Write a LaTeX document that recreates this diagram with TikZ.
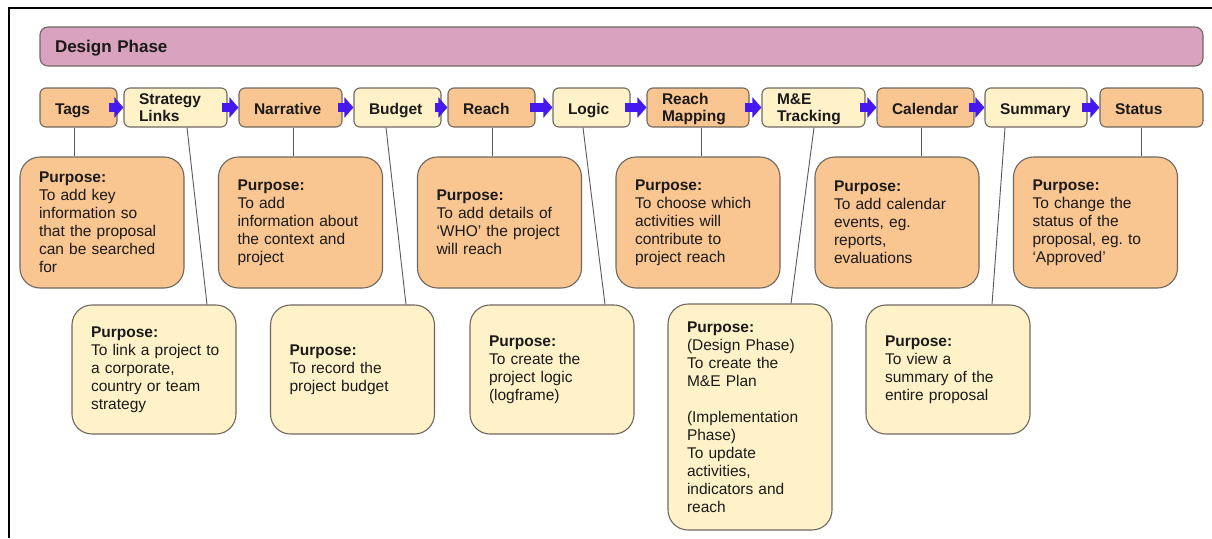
\documentclass[tikz,border=0pt]{standalone}
\usepackage{fontspec}
\setmainfont{Liberation Sans}
\usetikzlibrary{arrows.meta}
\definecolor{orng}{HTML}{F9C590}
\definecolor{ylw}{HTML}{FFF2C8}
\definecolor{purp}{HTML}{D9A3C0}
\definecolor{edge}{HTML}{6E6860}
\definecolor{arrowblue}{HTML}{4418EE}
\definecolor{txt}{HTML}{1A1A1A}
\frenchspacing
\tikzset{
  lbl/.style={draw=edge, line width=1.1pt, rounded corners=6pt, minimum height=39pt,
    inner xsep=15pt, inner ysep=2pt, align=left, text=txt,
    text height=14pt, text depth=0.4pt,
    font=\fontsize{15.5}{17.4}\selectfont\bfseries},
  twoline/.style={text height=10pt, text depth=16.4pt},
  obox/.style={lbl, fill=orng},
  ybox/.style={lbl, fill=ylw},
  purpose/.style={draw=edge, line width=1.1pt, rounded corners=20pt, minimum width=164pt,
    inner xsep=19pt, text width=126pt, align=left, text=txt,
    font=\fontsize{15.5}{18}\selectfont},
  opurp/.style={purpose, fill=orng, minimum height=131pt},
  ypurp/.style={purpose, fill=ylw, minimum height=129pt},
  flow/.style={draw=arrowblue, line width=9pt, -{Triangle[length=9pt,width=20pt]}},
  conn/.style={draw=black!65, line width=0.9pt},
  frameline/.style={draw=black, line width=2pt}
}
\begin{document}
\begin{tikzpicture}[x=1pt,y=-1pt]
\useasboundingbox (0,0) rectangle (1212,538);
% frame
\coordinate (fa) at (1212,8);
\coordinate (fb) at (9,8);
\coordinate (fc) at (9,538);
\draw[frameline] (fa) -- (fb) -- (fc);
% phase bar
\node[draw=edge, line width=1.1pt, fill=purp, rounded corners=8pt, minimum width=1163pt,
  minimum height=39pt, inner xsep=15pt, text width=1133pt, align=left, text=txt,
  text height=12pt, text depth=1pt,
  font=\fontsize{17}{20}\selectfont\bfseries] (phase) at (621.5,46.5) {Design Phase};
% top row
\node[obox, minimum width=77pt, text width=47pt] (tags) at (78.5,107.5) {Tags};
\node[ybox, twoline, minimum width=103pt, text width=73pt] (strat) at (175.5,107.5) {Strategy\\Links};
\node[obox, minimum width=103pt, text width=73pt] (narr) at (290.5,107.5) {Narrative};
\node[ybox, minimum width=87pt, text width=57pt] (budget) at (397.5,107.5) {Budget};
\node[obox, minimum width=87pt, text width=57pt] (reach) at (491.5,107.5) {Reach};
\node[ybox, minimum width=77pt, text width=47pt] (logic) at (591.5,107.5) {Logic};
\node[obox, twoline, minimum width=102pt, text width=72pt] (rmap) at (698,107.5) {Reach\\Mapping};
\node[ybox, twoline, minimum width=103pt, text width=73pt] (metr) at (813.5,107.5) {M\&E\\Tracking};
\node[obox, minimum width=97pt, text width=67pt] (cal) at (925.5,107.5) {Calendar};
\node[ybox, minimum width=102pt, text width=72pt] (summ) at (1036,107.5) {Summary};
\node[obox, minimum width=103pt, text width=73pt] (status) at (1151.5,107.5) {Status};
% arrows
\draw[flow] ([xshift=-9pt]tags.east) -- (strat.west);
\draw[flow] ([xshift=-6pt]strat.east) -- (narr.west);
\draw[flow] ([xshift=-5pt]narr.east) -- (budget.west);
\draw[flow] ([xshift=-7pt]budget.east) -- (reach.west);
\draw[flow] ([xshift=-6pt]reach.east) -- (logic.west);
\draw[flow] ([xshift=-6pt]logic.east) -- (rmap.west);
\draw[flow] ([xshift=-5pt]rmap.east) -- (metr.west);
\draw[flow] ([xshift=-6pt]metr.east) -- (cal.west);
\draw[flow] ([xshift=-6pt]cal.east) -- (summ.west);
\draw[flow] ([xshift=-6pt]summ.east) -- (status.west);
% purpose boxes, row 2
\node[opurp] (tagsP) at (102,222.5) {\textbf{Purpose:}\\To add key\\information so\\that the proposal\\can be searched\\for};
\node[opurp] (narrP) at (300.5,222.5) {\textbf{Purpose:}\\To add\\information about\\the context and\\project};
\node[opurp] (reachP) at (499.5,222.5) {\textbf{Purpose:}\\To add details of\\`WHO' the project\\will reach};
\node[opurp] (rmapP) at (698,222.5) {\textbf{Purpose:}\\To choose which\\activities will\\contribute to\\project reach};
\node[opurp] (calP) at (897,222.5) {\textbf{Purpose:}\\To add calendar\\events, eg.\\reports,\\evaluations};
\node[opurp] (statusP) at (1095.5,222.5) {\textbf{Purpose:}\\To change the\\status of the\\proposal, eg. to\\`Approved'};
% purpose boxes, row 3
\node[ypurp] (stratP) at (154,369.5) {\textbf{Purpose:}\\\mbox{To link a project to}\\a corporate,\\country or team\\strategy};
\node[ypurp] (budgetP) at (352.5,369.5) {\textbf{Purpose:}\\To record the\\project budget};
\node[ypurp] (logicP) at (552,369.5) {\textbf{Purpose:}\\To create the\\project logic\\(logframe)};
\node[purpose, fill=ylw, minimum height=226pt] (metrP) at (750,417) {\textbf{Purpose:}\\(Design Phase)\\To create the\\M\&E Plan\\[18pt](Implementation\\Phase)\\To update\\activities,\\indicators and\\reach};
\node[ypurp] (summP) at (948,369.5) {\textbf{Purpose:}\\To view a\\summary of the\\entire proposal};
% connectors
\draw[conn] ([xshift=-4.5pt]tags.south) -- ([xshift=-28pt]tagsP.north);
\draw[conn] ([xshift=11.5pt]strat.south) -- ([xshift=53pt]stratP.north);
\draw[conn] ([xshift=2.5pt]narr.south) -- ([xshift=-7.5pt]narrP.north);
\draw[conn] ([xshift=-11.5pt]budget.south) -- ([xshift=53.5pt]budgetP.north);
\draw[conn] ([xshift=0.5pt]reach.south) -- ([xshift=-7.5pt]reachP.north);
\draw[conn] ([xshift=-8.5pt]logic.south) -- ([xshift=53pt]logicP.north);
\draw[conn] ([xshift=3pt]rmap.south) -- ([xshift=3pt]rmapP.north);
\draw[conn] ([xshift=0.5pt]metr.south) -- ([xshift=41pt]metrP.north);
\draw[conn] ([xshift=-4.5pt]cal.south) -- ([xshift=24pt]calP.north);
\draw[conn] ([xshift=-31pt]summ.south) -- ([xshift=44pt]summP.north);
\draw[conn] ([xshift=-10.5pt]status.south) -- ([xshift=45.5pt]statusP.north);
\end{tikzpicture}
\end{document}
